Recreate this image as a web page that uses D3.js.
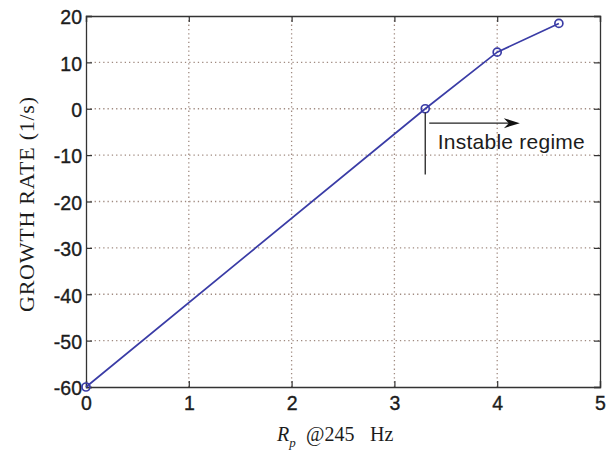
<!DOCTYPE html>
<html>
<head>
<meta charset="utf-8">
<script src="https://cdn.jsdelivr.net/npm/d3@7"></script>
<style>
  html, body { margin: 0; padding: 0; background: #fff; }
  svg { display: block; }
</style>
</head>
<body>
<svg id="chart" width="615" height="452"></svg>
<script>
// Growth rate versus R_p at 245 Hz
const rpValues = [0, 3.3, 4, 4.6];
const growthRates = [-60, 0, 12.2, 18.4];
const xTicks = [0, 1, 2, 3, 4, 5];
const yTicks = [20, 10, 0, -10, -20, -30, -40, -50, -60];
const annotationText = "Instable regime";

const svg = d3.select("#chart");
const margin = { left: 86, right: 15, top: 16, bottom: 65 };
const W = 615, H = 452;

const x = d3.scaleLinear().domain([0, 5]).range([margin.left, W - margin.right]);
const y = d3.scaleLinear().domain([-60, 20]).range([H - margin.bottom, margin.top]);

const tickFont = "'Liberation Sans', Arial, Helvetica, sans-serif";
const gridColor = "#a08a80";
const ink = "#1c1c1c";

// dotted grid
const grid = svg.append("g");
grid.selectAll("line.gx").data(xTicks.slice(1, -1)).join("line")
  .attr("x1", d => x(d)).attr("x2", d => x(d))
  .attr("y1", y(20)).attr("y2", y(-60))
  .attr("stroke", gridColor).attr("stroke-width", 1.3).attr("stroke-dasharray", "1.3,3");
grid.selectAll("line.gy").data(yTicks.slice(1, -1)).join("line")
  .attr("y1", d => y(d)).attr("y2", d => y(d))
  .attr("x1", x(0)).attr("x2", x(5))
  .attr("stroke", gridColor).attr("stroke-width", 1.3).attr("stroke-dasharray", "1.3,3");

// axes with inward ticks
const fmt = d => String(d);
const axB = svg.append("g").attr("transform", `translate(0,${y(-60)})`)
  .call(d3.axisBottom(x).tickValues(xTicks).tickSize(-6).tickPadding(9).tickFormat(fmt));
const axT = svg.append("g").attr("transform", `translate(0,${y(20)})`)
  .call(d3.axisTop(x).tickValues(xTicks).tickSize(-6).tickFormat(""));
const axL = svg.append("g").attr("transform", `translate(${x(0)},0)`)
  .call(d3.axisLeft(y).tickValues(yTicks).tickSize(-6).tickPadding(4).tickFormat(fmt));
const axR = svg.append("g").attr("transform", `translate(${x(5)},0)`)
  .call(d3.axisRight(y).tickValues(yTicks).tickSize(-6).tickFormat(""));

[axB, axT, axL, axR].forEach(a => {
  a.select(".domain").attr("stroke", "#333").attr("stroke-width", 1.3);
  a.selectAll(".tick line").attr("stroke", "#333").attr("stroke-width", 1.2);
  a.selectAll("text").attr("font-family", tickFont).attr("font-size", 19.5)
    .attr("fill", ink).attr("stroke", ink).attr("stroke-width", 0.35);
});
axL.selectAll("text").attr("dy", "0.4em");

// data line and markers
const lineColor = "#3a3ca6";
const pts = rpValues.map((v, i) => [v, growthRates[i]]);
svg.append("path")
  .datum(pts)
  .attr("fill", "none").attr("stroke", lineColor).attr("stroke-width", 1.7)
  .attr("d", d3.line().x(d => x(d[0])).y(d => y(d[1])));
svg.selectAll("circle.pt").data(pts).join("circle")
  .attr("cx", d => x(d[0])).attr("cy", d => y(d[1])).attr("r", 4)
  .attr("fill", "none").attr("stroke", lineColor).attr("stroke-width", 1.7);

// instability threshold annotation
const xThr = rpValues[1];
svg.append("line")
  .attr("x1", x(xThr)).attr("x2", x(xThr))
  .attr("y1", y(-0.8)).attr("y2", y(-14.2))
  .attr("stroke", "#222").attr("stroke-width", 1.3);
const arrowY = y(-3.1);
const ax0 = x(xThr) + 4, ax1 = x(4.22);
svg.append("line")
  .attr("x1", ax0).attr("x2", ax1 - 8)
  .attr("y1", arrowY).attr("y2", arrowY)
  .attr("stroke", "#222").attr("stroke-width", 1.3);
svg.append("path")
  .attr("d", `M${ax1},${arrowY} L${ax1 - 16},${arrowY - 5} L${ax1 - 11},${arrowY} L${ax1 - 16},${arrowY + 5} Z`)
  .attr("fill", "#111");
svg.append("text")
  .attr("x", x(xThr) + 12.5).attr("y", y(-8.7))
  .attr("font-family", tickFont).attr("font-size", 21).attr("fill", ink)
  .attr("textLength", 147)
  .text(annotationText);

// axis titles
const serif = "'Liberation Serif', 'Times New Roman', Times, serif";
svg.append("text")
  .attr("transform", `translate(33.5,204.5) rotate(-90)`)
  .attr("text-anchor", "middle")
  .attr("font-family", serif).attr("font-size", 22).attr("fill", ink)
  .attr("textLength", 215)
  .text("GROWTH RATE (1/s)");

const xl = svg.append("text")
  .attr("x", 277).attr("y", 441)
  .attr("font-family", serif).attr("font-size", 20).attr("fill", ink);
xl.append("tspan").attr("font-style", "italic").text("R");
xl.append("tspan").attr("font-style", "italic").attr("font-size", 13).attr("dy", 6).text("p");
xl.append("tspan").attr("x", 306).attr("dy", -6).text("@245");
xl.append("tspan").attr("x", 370).text("Hz");
</script>
</body>
</html>
